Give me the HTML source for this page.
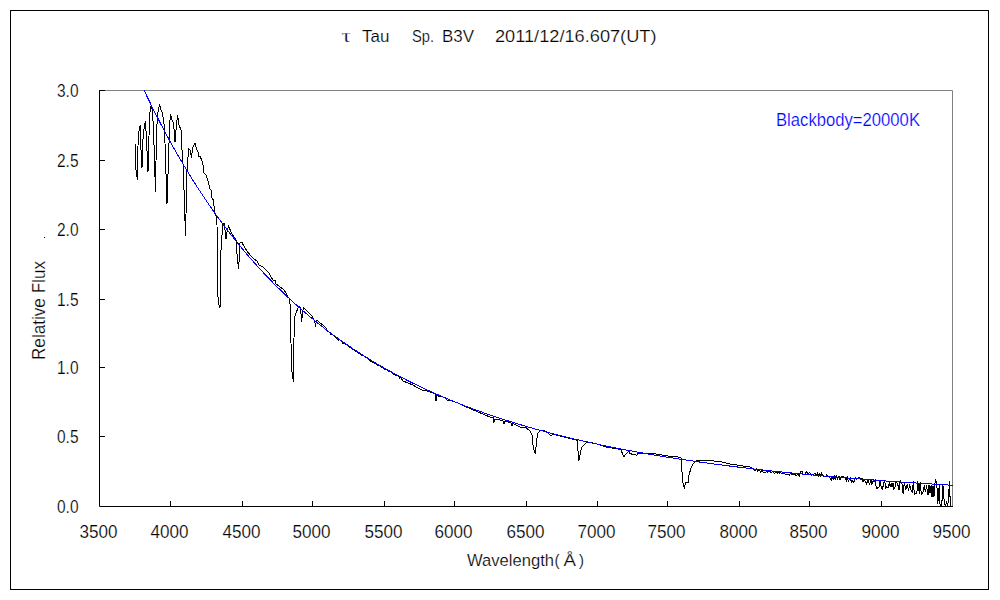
<!DOCTYPE html>
<html><head><meta charset="utf-8"><style>html,body{margin:0;padding:0;background:#fff;}svg{display:block}</style></head>
<body><svg width="1000" height="600" viewBox="0 0 1000 600">
<rect width="1000" height="600" fill="#fff"/>
<rect x="10.5" y="10.5" width="978" height="579" fill="none" stroke="#000" stroke-width="1"/>
<path d="M99.5,90.5 H952.5 V506.5" fill="none" stroke="#808080" stroke-width="1"/>
<path d="M99.5,90 V506.5 H953 M99,90.5 H105 M99,160.5 H105 M99,229.5 H105 M99,299.5 H105 M99,367.5 H105 M99,436.5 H105 M170.5,501 V506 M242.5,501 V506 M312.5,501 V506 M384.5,501 V506 M454.5,501 V506 M526.5,501 V506 M597.5,501 V506 M667.5,501 V506 M739.5,501 V506 M809.5,501 V506 M881.5,501 V506" fill="none" stroke="#000" stroke-width="1"/>
<clipPath id="c"><rect x="99" y="90" width="854" height="417"/></clipPath>
<path d="M135.5,144.0 L135.5,167.0 L137.5,180.0 L138.0,146.0 L138.5,133.0 L140.0,126.0 L140.5,125.0 L141.0,150.0 L142.0,168.0 L143.0,139.0 L144.5,124.0 L145.5,122.0 L146.5,140.0 L148.0,172.0 L149.0,136.0 L149.5,117.0 L150.5,108.0 L151.5,105.0 L152.5,112.0 L153.5,129.0 L155.5,192.0 L156.5,130.0 L158.0,112.0 L159.5,104.0 L161.0,110.0 L162.5,113.0 L164.5,128.0 L167.0,204.0 L168.5,160.0 L169.5,127.0 L170.5,114.0 L172.0,120.0 L173.5,123.0 L175.0,142.0 L176.5,125.0 L177.5,115.0 L179.0,125.0 L181.0,130.0 L182.0,150.0 L183.0,164.0 L184.0,190.0 L185.5,236.0 L186.0,215.0 L186.5,178.0 L187.5,165.0 L188.5,149.0 L190.0,150.0 L191.5,158.0 L192.5,148.0 L195.0,143.5 L196.5,149.0 L198.0,152.0 L199.0,157.0 L200.0,156.0 L202.0,161.0 L203.0,165.0 L204.0,173.0 L206.0,175.0 L208.0,181.0 L210.0,189.0 L211.0,190.0 L212.0,198.0 L213.5,200.0 L214.0,206.0 L215.0,214.0 L216.0,216.0 L217.0,225.0 L218.0,297.0 L219.0,305.0 L220.0,308.0 L221.0,250.0 L222.0,235.0 L223.0,224.0 L224.0,223.0 L225.0,230.0 L226.0,239.0 L227.0,232.0 L228.5,226.0 L232.0,234.0 L236.0,240.0 L236.5,249.0 L238.5,269.0 L239.5,255.0 L240.0,243.0 L242.0,242.5 L245.0,248.0 L247.0,251.0 L250.0,255.0 L254.0,259.0 L257.0,261.0 L259.0,265.0 L263.0,267.0 L266.0,270.0 L269.0,273.0 L271.0,277.0 L273.0,280.0 L275.0,280.0 L276.0,284.0 L279.0,286.0 L284.0,290.0 L286.0,293.0 L288.0,297.0 L289.5,298.5 L290.0,304.0 L290.5,317.0 L291.5,368.0 L292.5,376.0 L293.5,382.0 L293.5,359.0 L294.5,317.0 L296.5,312.0 L298.5,306.5 L300.0,306.5 L301.5,317.0 L301.5,322.0 L303.0,310.0 L303.5,308.0 L306.0,310.0 L309.0,313.0 L312.0,316.0 L314.0,320.0 L315.5,325.0 L317.0,320.0 L320.0,323.0 L323.0,325.0 L326.0,328.0 L327.5,331.4 L328.5,331.6 L329.5,332.4 L330.5,334.1 L331.5,333.9 L332.5,334.6 L333.5,335.4 L334.5,336.1 L335.5,336.8 L336.5,338.6 L337.5,338.8 L338.5,340.0 L339.5,339.7 L340.5,340.4 L341.5,341.6 L342.5,341.9 L342.5,343.5 L343.5,343.6 L344.5,343.8 L345.5,343.9 L346.5,344.6 L347.5,345.3 L348.5,346.0 L349.5,347.7 L350.5,347.9 L351.5,348.0 L352.5,349.2 L353.5,349.4 L354.5,350.5 L355.5,351.2 L356.5,351.9 L357.5,352.5 L358.5,353.7 L359.5,353.3 L360.5,354.0 L361.5,355.6 L362.5,355.7 L363.5,355.9 L364.5,356.5 L365.5,357.6 L366.5,357.7 L367.5,358.4 L368.5,359.5 L369.5,359.6 L370.5,361.2 L371.5,361.3 L372.5,362.4 L373.5,362.0 L374.5,363.6 L375.5,363.2 L376.5,364.8 L377.5,365.4 L378.5,365.0 L379.5,365.6 L380.5,366.2 L381.5,367.2 L382.5,367.3 L383.5,367.9 L384.5,369.5 L385.5,369.5 L386.5,369.6 L387.5,370.1 L388.5,371.7 L389.5,371.8 L390.5,371.8 L391.5,372.4 L392.5,372.9 L393.5,374.0 L394.5,374.0 L395.5,375.5 L396.5,375.1 L397.5,375.6 L398.5,376.1 L399.5,377.7 L400.0,376.8 L403.0,381.0 L408.0,383.0 L413.0,385.0 L416.0,387.0 L422.0,390.0 L427.0,391.0 L432.0,392.6 L435.0,394.0 L436.0,401.0 L437.0,395.0 L439.0,397.0 L441.0,396.0 L445.0,398.0 L447.0,400.0 L452.0,401.0 L458.0,403.0 L464.0,406.0 L470.0,408.5 L478.0,412.0 L484.0,414.5 L491.0,417.5 L493.0,417.0 L493.5,423.0 L495.0,419.0 L500.0,420.0 L503.0,421.0 L504.0,424.0 L505.0,421.5 L508.0,422.0 L511.0,423.0 L512.0,426.0 L513.0,423.5 L516.0,425.0 L520.0,427.0 L526.4,428.0 L530.0,431.0 L532.0,435.0 L533.0,445.0 L534.0,450.0 L535.5,453.8 L536.5,440.0 L538.0,433.0 L540.0,431.0 L544.0,430.4 L547.0,432.0 L551.0,436.0 L553.0,434.0 L560.0,436.0 L570.0,438.4 L576.0,440.0 L577.0,440.0 L578.0,451.0 L579.0,460.5 L581.0,450.0 L582.0,447.0 L584.0,445.0 L586.0,443.0 L590.0,442.4 L595.0,443.4 L600.0,445.0 L606.0,447.0 L612.0,448.0 L618.0,449.0 L621.0,450.0 L623.0,455.0 L624.0,456.5 L627.0,453.0 L629.0,451.0 L630.0,453.4 L633.0,454.6 L637.0,455.2 L638.0,453.0 L643.0,453.0 L646.0,454.0 L650.0,453.4 L656.0,454.0 L662.0,455.0 L666.0,455.8 L672.0,456.4 L678.0,457.0 L681.0,458.0 L682.0,472.0 L683.0,483.0 L684.5,488.6 L685.5,482.0 L687.0,482.0 L688.5,482.5 L689.0,475.0 L691.0,468.0 L692.5,465.0 L694.0,463.0 L696.0,461.0 L702.0,460.0 L708.0,460.6 L714.0,461.0 L720.0,461.5 L730.0,464.0 L740.0,465.5 L750.0,467.0 L755.0,470.7 L756.5,468.9 L757.5,471.5 L758.8,469.9 L760.8,472.2 L761.8,470.4 L763.3,472.3 L764.3,472.6 L765.8,472.1 L766.8,470.5 L767.8,472.5 L769.3,470.6 L771.3,472.8 L772.6,471.4 L774.6,473.4 L776.1,471.5 L777.1,473.4 L778.1,471.8 L779.1,473.4 L780.4,472.0 L781.9,473.8 L783.9,472.8 L785.9,474.7 L787.9,474.9 L789.4,475.0 L790.7,472.5 L792.0,475.3 L794.0,473.5 L796.0,475.7 L798.0,474.1 L799.3,475.8 L800.6,471.5 L802.1,471.6 L803.4,474.7 L805.4,474.0 L806.4,471.6 L808.4,474.0 L809.4,472.4 L811.4,475.2 L812.4,475.0 L813.7,474.5 L815.2,473.0 L816.7,475.7 L817.7,472.7 L818.7,475.9 L819.7,473.6 L820.7,476.3 L821.7,472.9 L822.7,475.8 L823.7,476.1 L825.7,476.5 L826.7,474.5 L828.2,476.4 L829.2,476.3 L831.2,480.3 L832.2,476.3 L833.2,479.7 L834.2,474.7 L835.2,479.4 L836.2,475.3 L837.5,479.3 L839.0,476.1 L840.0,479.6 L841.5,476.8 L843.0,476.6 L845.0,477.2 L846.3,481.1 L847.3,477.4 L848.3,481.1 L850.3,478.0 L851.6,482.4 L852.9,480.6 L853.9,482.2 L855.2,477.6 L856.7,479.1 L858.7,477.4 L860.7,478.3 L862.0,478.2 L863.0,482.0 L864.5,479.7 L866.5,483.8 L868.0,480.1 L869.5,483.9 L871.0,480.3 L871.8,485.0 L873.3,479.6 L874.1,482.0 L875.3,480.4 L876.3,488.0 L877.5,488.1 L879.0,487.1 L879.8,480.4 L881.3,487.6 L882.5,488.8 L884.0,481.9 L884.8,482.0 L885.8,487.9 L886.6,487.0 L888.1,487.4 L889.3,483.0 L890.3,486.9 L891.1,483.2 L891.9,487.3 L893.1,482.6 L893.9,489.3 L895.1,487.0 L896.1,481.8 L897.6,483.8 L899.1,489.9 L900.3,479.9 L901.1,483.4 L901.9,482.7 L903.1,493.6 L904.3,482.8 L905.8,489.6 L907.3,484.5 L908.5,490.9 L909.7,484.0 L910.7,489.7 L911.7,491.8 L912.5,492.1 L913.3,481.0 L914.3,494.1 L915.8,493.8 L916.8,493.6 L917.8,481.0 L919.3,493.6 L920.1,481.7 L921.3,494.2 L922.3,493.8 L923.1,491.6 L924.3,485.5 L925.5,492.4 L926.5,485.4 L928.0,494.7 L929.0,485.1 L930.0,492.6 L931.2,485.4 L932.0,497.2 L933.0,486.3 L934.0,496.7 L934.8,484.6 L935.6,480.4 L936.8,483.3 L937.8,504.0 L939.3,484.2 L940.1,506.0 L940.9,506.0 L941.7,506.0 L942.9,484.2 L944.4,504.6 L945.6,506.0 L946.6,501.0 L947.4,506.0 L948.4,500.8 L949.4,481.1 L950.4,506.0 L951.2,506.0" fill="none" stroke="#000" stroke-width="1" shape-rendering="crispEdges" clip-path="url(#c)"/>
<path d="M128.43,55.48 L129.86,58.78 L131.28,62.04 L132.70,65.28 L134.12,68.49 L135.54,71.68 L136.96,74.84 L138.38,77.97 L139.81,81.07 L141.23,84.15 L142.65,87.20 L144.07,90.23 L145.49,93.23 L146.91,96.21 L148.34,99.16 L149.76,102.09 L151.18,104.99 L152.60,107.87 L154.02,110.72 L155.44,113.55 L156.87,116.36 L158.29,119.14 L159.71,121.90 L161.13,124.64 L162.55,127.35 L163.97,130.04 L165.40,132.71 L166.82,135.36 L168.24,137.98 L169.66,140.59 L171.08,143.17 L172.50,145.73 L173.93,148.27 L175.35,150.79 L176.77,153.28 L178.19,155.76 L179.61,158.22 L181.03,160.65 L182.46,163.07 L183.88,165.46 L185.30,167.84 L186.72,170.20 L188.14,172.53 L189.56,174.85 L190.99,177.15 L192.41,179.43 L193.83,181.69 L195.25,183.93 L196.67,186.16 L198.09,188.37 L199.52,190.55 L200.94,192.72 L202.36,194.88 L203.78,197.01 L205.20,199.13 L206.62,201.23 L208.05,203.32 L209.47,205.38 L210.89,207.43 L212.31,209.47 L213.73,211.48 L215.16,213.49 L216.58,215.47 L218.00,217.44 L219.42,219.39 L220.84,221.33 L222.26,223.25 L223.69,225.16 L225.11,227.05 L226.53,228.92 L227.95,230.79 L229.37,232.63 L230.79,234.46 L232.22,236.28 L233.64,238.08 L235.06,239.87 L236.48,241.64 L237.90,243.40 L239.32,245.15 L240.75,246.88 L242.17,248.60 L243.59,250.30 L245.01,251.99 L246.43,253.67 L247.85,255.34 L249.27,256.99 L250.70,258.62 L252.12,260.25 L253.54,261.86 L254.96,263.46 L256.38,265.05 L257.81,266.62 L259.23,268.19 L260.65,269.74 L262.07,271.28 L263.49,272.80 L264.91,274.32 L266.34,275.82 L267.76,277.31 L269.18,278.79 L270.60,280.26 L272.02,281.71 L273.44,283.16 L274.87,284.59 L276.29,286.02 L277.71,287.43 L279.13,288.83 L280.55,290.22 L281.97,291.60 L283.39,292.97 L284.82,294.33 L286.24,295.68 L287.66,297.01 L289.08,298.34 L290.50,299.66 L291.93,300.97 L293.35,302.27 L294.77,303.55 L296.19,304.83 L297.61,306.10 L299.03,307.36 L300.45,308.61 L301.88,309.85 L303.30,311.08 L304.72,312.30 L306.14,313.51 L307.56,314.71 L308.99,315.91 L310.41,317.09 L311.83,318.27 L313.25,319.43 L314.67,320.59 L316.09,321.74 L317.51,322.88 L318.94,324.01 L320.36,325.14 L321.78,326.25 L323.20,327.36 L324.62,328.46 L326.05,329.55 L327.47,330.63 L328.89,331.71 L330.31,332.77 L331.73,333.83 L333.15,334.88 L334.58,335.93 L336.00,336.96 L337.42,337.99 L338.84,339.01 L340.26,340.03 L341.68,341.03 L343.11,342.03 L344.53,343.02 L345.95,344.00 L347.37,344.98 L348.79,345.95 L350.21,346.91 L351.63,347.87 L353.06,348.82 L354.48,349.76 L355.90,350.69 L357.32,351.62 L358.74,352.54 L360.17,353.46 L361.59,354.36 L363.01,355.27 L364.43,356.16 L365.85,357.05 L367.27,357.93 L368.69,358.81 L370.12,359.68 L371.54,360.54 L372.96,361.40 L374.38,362.25 L375.80,363.09 L377.23,363.93 L378.65,364.77 L380.07,365.59 L381.49,366.41 L382.91,367.23 L384.33,368.04 L385.75,368.84 L387.18,369.64 L388.60,370.43 L390.02,371.22 L391.44,372.00 L392.86,372.78 L394.28,373.55 L395.71,374.31 L397.13,375.07 L398.55,375.83 L399.97,376.58 L401.39,377.32 L402.81,378.06 L404.24,378.79 L405.66,379.52 L407.08,380.25 L408.50,380.97 L409.92,381.68 L411.34,382.39 L412.77,383.09 L414.19,383.79 L415.61,384.48 L417.03,385.17 L418.45,385.86 L419.88,386.54 L421.30,387.21 L422.72,387.88 L424.14,388.55 L425.56,389.21 L426.98,389.87 L428.41,390.52 L429.83,391.17 L431.25,391.81 L432.67,392.45 L434.09,393.08 L435.51,393.71 L436.94,394.34 L438.36,394.96 L439.78,395.58 L441.20,396.19 L442.62,396.80 L444.04,397.41 L445.47,398.01 L446.89,398.61 L448.31,399.20 L449.73,399.79 L451.15,400.37 L452.57,400.96 L454.00,401.53 L455.42,402.11 L456.84,402.68 L458.26,403.24 L459.68,403.80 L461.10,404.36 L462.52,404.92 L463.95,405.47 L465.37,406.02 L466.79,406.56 L468.21,407.10 L469.63,407.64 L471.06,408.17 L472.48,408.70 L473.90,409.23 L475.32,409.75 L476.74,410.27 L478.16,410.78 L479.58,411.30 L481.01,411.80 L482.43,412.31 L483.85,412.81 L485.27,413.31 L486.69,413.81 L488.12,414.30 L489.54,414.79 L490.96,415.28 L492.38,415.76 L493.80,416.24 L495.22,416.72 L496.65,417.19 L498.07,417.66 L499.49,418.13 L500.91,418.59 L502.33,419.06 L503.75,419.51 L505.17,419.97 L506.60,420.42 L508.02,420.87 L509.44,421.32 L510.86,421.76 L512.28,422.21 L513.70,422.64 L515.13,423.08 L516.55,423.51 L517.97,423.94 L519.39,424.37 L520.81,424.80 L522.24,425.22 L523.66,425.64 L525.08,426.05 L526.50,426.47 L527.92,426.88 L529.34,427.29 L530.76,427.70 L532.19,428.10 L533.61,428.50 L535.03,428.90 L536.45,429.30 L537.87,429.69 L539.30,430.08 L540.72,430.47 L542.14,430.86 L543.56,431.24 L544.98,431.62 L546.40,432.00 L547.83,432.38 L549.25,432.75 L550.67,433.13 L552.09,433.50 L553.51,433.86 L554.93,434.23 L556.36,434.59 L557.78,434.95 L559.20,435.31 L560.62,435.67 L562.04,436.02 L563.46,436.38 L564.88,436.73 L566.31,437.07 L567.73,437.42 L569.15,437.76 L570.57,438.11 L571.99,438.45 L573.41,438.78 L574.84,439.12 L576.26,439.45 L577.68,439.78 L579.10,440.11 L580.52,440.44 L581.94,440.77 L583.37,441.09 L584.79,441.41 L586.21,441.73 L587.63,442.05 L589.05,442.36 L590.47,442.68 L591.90,442.99 L593.32,443.30 L594.74,443.61 L596.16,443.91 L597.58,444.22 L599.00,444.52 L600.43,444.82 L601.85,445.12 L603.27,445.42 L604.69,445.71 L606.11,446.01 L607.53,446.30 L608.96,446.59 L610.38,446.88 L611.80,447.17 L613.22,447.45 L614.64,447.73 L616.06,448.02 L617.49,448.30 L618.91,448.58 L620.33,448.85 L621.75,449.13 L623.17,449.40 L624.60,449.67 L626.02,449.94 L627.44,450.21 L628.86,450.48 L630.28,450.75 L631.70,451.01 L633.12,451.27 L634.55,451.53 L635.97,451.79 L637.39,452.05 L638.81,452.31 L640.23,452.56 L641.65,452.82 L643.08,453.07 L644.50,453.32 L645.92,453.57 L647.34,453.82 L648.76,454.07 L650.19,454.31 L651.61,454.55 L653.03,454.80 L654.45,455.04 L655.87,455.28 L657.29,455.52 L658.72,455.75 L660.14,455.99 L661.56,456.22 L662.98,456.46 L664.40,456.69 L665.82,456.92 L667.25,457.15 L668.67,457.37 L670.09,457.60 L671.51,457.82 L672.93,458.05 L674.35,458.27 L675.78,458.49 L677.20,458.71 L678.62,458.93 L680.04,459.15 L681.46,459.36 L682.88,459.58 L684.31,459.79 L685.73,460.01 L687.15,460.22 L688.57,460.43 L689.99,460.64 L691.41,460.85 L692.83,461.05 L694.26,461.26 L695.68,461.46 L697.10,461.67 L698.52,461.87 L699.94,462.07 L701.37,462.27 L702.79,462.47 L704.21,462.67 L705.63,462.86 L707.05,463.06 L708.47,463.25 L709.89,463.45 L711.32,463.64 L712.74,463.83 L714.16,464.02 L715.58,464.21 L717.00,464.40 L718.42,464.59 L719.85,464.77 L721.27,464.96 L722.69,465.14 L724.11,465.33 L725.53,465.51 L726.96,465.69 L728.38,465.87 L729.80,466.05 L731.22,466.23 L732.64,466.40 L734.06,466.58 L735.49,466.76 L736.91,466.93 L738.33,467.10 L739.75,467.28 L741.17,467.45 L742.59,467.62 L744.01,467.79 L745.44,467.96 L746.86,468.13 L748.28,468.29 L749.70,468.46 L751.12,468.63 L752.54,468.79 L753.97,468.95 L755.39,469.12 L756.81,469.28 L758.23,469.44 L759.65,469.60 L761.08,469.76 L762.50,469.92 L763.92,470.08 L765.34,470.23 L766.76,470.39 L768.18,470.54 L769.61,470.70 L771.03,470.85 L772.45,471.00 L773.87,471.16 L775.29,471.31 L776.71,471.46 L778.13,471.61 L779.56,471.76 L780.98,471.90 L782.40,472.05 L783.82,472.20 L785.24,472.34 L786.67,472.49 L788.09,472.63 L789.51,472.78 L790.93,472.92 L792.35,473.06 L793.77,473.20 L795.19,473.34 L796.62,473.48 L798.04,473.62 L799.46,473.76 L800.88,473.90 L802.30,474.03 L803.72,474.17 L805.15,474.31 L806.57,474.44 L807.99,474.57 L809.41,474.71 L810.83,474.84 L812.25,474.97 L813.68,475.10 L815.10,475.24 L816.52,475.37 L817.94,475.49 L819.36,475.62 L820.78,475.75 L822.21,475.88 L823.63,476.01 L825.05,476.13 L826.47,476.26 L827.89,476.38 L829.31,476.51 L830.74,476.63 L832.16,476.75 L833.58,476.88 L835.00,477.00 L836.42,477.12 L837.85,477.24 L839.27,477.36 L840.69,477.48 L842.11,477.60 L843.53,477.72 L844.95,477.83 L846.38,477.95 L847.80,478.07 L849.22,478.18 L850.64,478.30 L852.06,478.41 L853.48,478.53 L854.90,478.64 L856.33,478.75 L857.75,478.86 L859.17,478.98 L860.59,479.09 L862.01,479.20 L863.44,479.31 L864.86,479.42 L866.28,479.53 L867.70,479.64 L869.12,479.74 L870.54,479.85 L871.97,479.96 L873.39,480.07 L874.81,480.17 L876.23,480.28 L877.65,480.38 L879.07,480.49 L880.50,480.59 L881.92,480.69 L883.34,480.80 L884.76,480.90 L886.18,481.00 L887.60,481.10 L889.03,481.20 L890.45,481.30 L891.87,481.40 L893.29,481.50 L894.71,481.60 L896.13,481.70 L897.56,481.80 L898.98,481.89 L900.40,481.99 L901.82,482.09 L903.24,482.18 L904.66,482.28 L906.08,482.38 L907.51,482.47 L908.93,482.56 L910.35,482.66 L911.77,482.75 L913.19,482.84 L914.62,482.94 L916.04,483.03 L917.46,483.12 L918.88,483.21 L920.30,483.30 L921.72,483.39 L923.14,483.48 L924.57,483.57 L925.99,483.66 L927.41,483.75 L928.83,483.84 L930.25,483.93 L931.67,484.01 L933.10,484.10 L934.52,484.19 L935.94,484.27 L937.36,484.36 L938.78,484.44 L940.21,484.53 L941.63,484.61 L943.05,484.70 L944.47,484.78 L945.89,484.86 L947.31,484.95 L948.74,485.03 L950.16,485.11 L951.58,485.19 L953.00,485.28" fill="none" stroke="#0000ff" stroke-width="1" shape-rendering="crispEdges" clip-path="url(#c)"/>
<text x="98.5" y="538" font-family="Liberation Sans" stroke="#fff" stroke-width="0.22" font-size="17.8" text-anchor="middle" textLength="38" lengthAdjust="spacingAndGlyphs">3500</text>
<text x="169.5" y="538" font-family="Liberation Sans" stroke="#fff" stroke-width="0.22" font-size="17.8" text-anchor="middle" textLength="38" lengthAdjust="spacingAndGlyphs">4000</text>
<text x="241.5" y="538" font-family="Liberation Sans" stroke="#fff" stroke-width="0.22" font-size="17.8" text-anchor="middle" textLength="38" lengthAdjust="spacingAndGlyphs">4500</text>
<text x="311.5" y="538" font-family="Liberation Sans" stroke="#fff" stroke-width="0.22" font-size="17.8" text-anchor="middle" textLength="38" lengthAdjust="spacingAndGlyphs">5000</text>
<text x="383.5" y="538" font-family="Liberation Sans" stroke="#fff" stroke-width="0.22" font-size="17.8" text-anchor="middle" textLength="38" lengthAdjust="spacingAndGlyphs">5500</text>
<text x="453.5" y="538" font-family="Liberation Sans" stroke="#fff" stroke-width="0.22" font-size="17.8" text-anchor="middle" textLength="38" lengthAdjust="spacingAndGlyphs">6000</text>
<text x="525.5" y="538" font-family="Liberation Sans" stroke="#fff" stroke-width="0.22" font-size="17.8" text-anchor="middle" textLength="38" lengthAdjust="spacingAndGlyphs">6500</text>
<text x="596.5" y="538" font-family="Liberation Sans" stroke="#fff" stroke-width="0.22" font-size="17.8" text-anchor="middle" textLength="38" lengthAdjust="spacingAndGlyphs">7000</text>
<text x="666.5" y="538" font-family="Liberation Sans" stroke="#fff" stroke-width="0.22" font-size="17.8" text-anchor="middle" textLength="38" lengthAdjust="spacingAndGlyphs">7500</text>
<text x="738.5" y="538" font-family="Liberation Sans" stroke="#fff" stroke-width="0.22" font-size="17.8" text-anchor="middle" textLength="38" lengthAdjust="spacingAndGlyphs">8000</text>
<text x="808.5" y="538" font-family="Liberation Sans" stroke="#fff" stroke-width="0.22" font-size="17.8" text-anchor="middle" textLength="38" lengthAdjust="spacingAndGlyphs">8500</text>
<text x="880.5" y="538" font-family="Liberation Sans" stroke="#fff" stroke-width="0.22" font-size="17.8" text-anchor="middle" textLength="38" lengthAdjust="spacingAndGlyphs">9000</text>
<text x="951.5" y="538" font-family="Liberation Sans" stroke="#fff" stroke-width="0.22" font-size="17.8" text-anchor="middle" textLength="38" lengthAdjust="spacingAndGlyphs">9500</text>
<text x="78.5" y="96.8" font-family="Liberation Sans" stroke="#fff" stroke-width="0.22" font-size="17.8" text-anchor="end" textLength="21.5" lengthAdjust="spacingAndGlyphs">3.0</text>
<text x="78.5" y="166.8" font-family="Liberation Sans" stroke="#fff" stroke-width="0.22" font-size="17.8" text-anchor="end" textLength="21.5" lengthAdjust="spacingAndGlyphs">2.5</text>
<text x="78.5" y="235.8" font-family="Liberation Sans" stroke="#fff" stroke-width="0.22" font-size="17.8" text-anchor="end" textLength="21.5" lengthAdjust="spacingAndGlyphs">2.0</text>
<text x="78.5" y="305.8" font-family="Liberation Sans" stroke="#fff" stroke-width="0.22" font-size="17.8" text-anchor="end" textLength="21.5" lengthAdjust="spacingAndGlyphs">1.5</text>
<text x="78.5" y="373.8" font-family="Liberation Sans" stroke="#fff" stroke-width="0.22" font-size="17.8" text-anchor="end" textLength="21.5" lengthAdjust="spacingAndGlyphs">1.0</text>
<text x="78.5" y="442.8" font-family="Liberation Sans" stroke="#fff" stroke-width="0.22" font-size="17.8" text-anchor="end" textLength="21.5" lengthAdjust="spacingAndGlyphs">0.5</text>
<text x="78.5" y="512.8" font-family="Liberation Sans" stroke="#fff" stroke-width="0.22" font-size="17.8" text-anchor="end" textLength="21.5" lengthAdjust="spacingAndGlyphs">0.0</text>
<text x="341.5" y="42" font-family="Liberation Serif" stroke="#fff" stroke-width="0.25" font-size="19" textLength="9.5" lengthAdjust="spacingAndGlyphs">τ</text>
<text x="362" y="42" font-family="Liberation Sans" stroke="#fff" stroke-width="0.22" font-size="16.5" textLength="27.5" lengthAdjust="spacingAndGlyphs">Tau</text>
<text x="412" y="42" font-family="Liberation Sans" stroke="#fff" stroke-width="0.22" font-size="16.5" textLength="22" lengthAdjust="spacingAndGlyphs">Sp.</text>
<text x="442" y="42" font-family="Liberation Sans" stroke="#fff" stroke-width="0.22" font-size="16.5" textLength="32" lengthAdjust="spacingAndGlyphs">B3V</text>
<text x="495" y="42" font-family="Liberation Sans" stroke="#fff" stroke-width="0.22" font-size="16.5" textLength="161.5" lengthAdjust="spacingAndGlyphs">2011/12/16.607(UT)</text>
<text x="467" y="566" font-family="Liberation Sans" stroke="#fff" stroke-width="0.22" font-size="17" textLength="87" lengthAdjust="spacingAndGlyphs">Wavelength</text>
<text x="554.5" y="566" font-family="Liberation Sans" stroke="#fff" stroke-width="0.22" font-size="17" textLength="5" lengthAdjust="spacingAndGlyphs">(</text>
<text x="563.5" y="566" font-family="Liberation Sans" stroke="#fff" stroke-width="0.22" font-size="17" textLength="12.5" lengthAdjust="spacingAndGlyphs">Å</text>
<text x="579" y="566" font-family="Liberation Sans" stroke="#fff" stroke-width="0.22" font-size="17" textLength="5" lengthAdjust="spacingAndGlyphs">)</text>
<text transform="translate(45,360) rotate(-90)" x="0" y="0" font-family="Liberation Sans" stroke="#fff" stroke-width="0.22" font-size="17.8" textLength="99" lengthAdjust="spacingAndGlyphs">Relative Flux</text>
<rect x="44" y="237" width="1" height="1" fill="#000"/>
<text x="776" y="126" font-family="Liberation Sans" stroke="#fff" stroke-width="0.22" font-size="17.8" fill="#0000ff" textLength="144" lengthAdjust="spacingAndGlyphs">Blackbody=20000K</text>
</svg></body></html>
